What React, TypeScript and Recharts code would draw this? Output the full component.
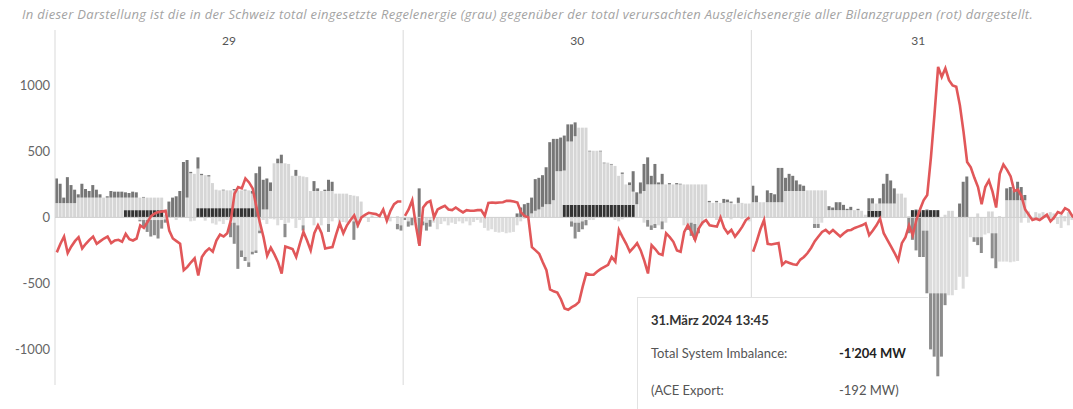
import React from "react";
import { Bar, ComposedChart, Line, ReferenceArea, ReferenceLine, XAxis, YAxis } from "recharts";

const days = ["29", "30", "31"];
const slotsPerDay = [96, 96, 92];
const yTicks = [-1000, -500, 0, 500, 1000];

// 29. März, 15-min slots (MW)
const blk29 = [
  0, 0, 0, 0, 0, 0, 0, 0, 0, 0, 0, 0, 0, 0, 0, 0, 0, 0, 0,
  55, 55, 55, 55, 55, 55, 55, 55, 55, 55, 55,
  0, 0, 0, 0, 0, 0, 0, 0, 0,
  70, 70, 70, 70, 70, 70, 70, 70, 70, 70, 70, 70, 70, 70, 70, 70,
  0, 0, 0, 0, 0, 0, 0, 0, 0, 0, 0, 0, 0, 0, 0, 0, 0, 0, 0, 0, 0, 0, 0, 0, 0, 0, 0, 0, 0, 0, 0, 0, 0, 0, 0, 0, 0, 0, 0, 0, 0,
];
const lt29 = [
  108, 108, 108, 108, 108, 108,
  150, 150, 150, 150, 150, 150, 150, 150, 150, 150, 150, 150, 150,
  95, 95, 95, 95, 95, 95, 95, 95, 95, 95, 95,
  20, 0, 0, 0, 0, 0, 150, 335, 330,
  300, 250, 250, 240, 190, 140,
  135, 135, 135, 135, 135, 135, 135, 135, 135,
  110, 0, 0, 60, 60, 200,
  410, 410, 410, 410, 405,
  315, 315, 315, 310, 305,
  200, 200, 200, 200, 200, 200, 200,
  180, 180, 180, 180, 170, 165, 160, 120,
  10, 0, 15, 0, 10, 0, 20, 5, 0, 10, 0,
];
const dk29 = [
  187, 147, 42, 197, 137, 102,
  25, 105, 65, 50, 95, 60, 25, 0, 10, 50, 45, 45,
  45, 40, 35, 45, 40,
  0, 5, 0, 0, 0, 0, 0,
  0, 120, 150, 160, 200, 420, 285, 10, 0,
  85, 10, 0, 10, 0, 0,
  0, 5, 0, 0, 10, 0, 0, 5, 0,
  20, 335, 385, 225, 235, 65,
  0, 35, 65, 0, 0,
  0, 45, 0, 0, 0,
  0, 75, 20, 0, 10, 85, 70,
  0, 0, 0, 0, 0, 0, 0, 0,
  0, 0, 0, 0, 0, 0, 0, 0, 0, 0, 0,
];
const nlt29 = [
  0, 0, 0, 0, 0, 0, 0, 0, 0, 0, 0, 0, 0, 0, 0, 0, 0, 0, 0, 0, 0, 0, 0,
  -20, -20, -20, -20, -20, -20, -20, -15,
  0, 0, -20, 0, 0, 0,
  -30, -25, 0, 0,
  -25, 0, -45, -55, -30, -50, -20,
  -40, -40, -60, -250, -300, -340, -260, -250, -100,
  -20, -50, -10,
  -15, -60, -20, -50, -40, -10, -80, -20,
  -60, 0, 0, -60, 0,
  -60, 0, -50, -30, 0, -40, -35, -40, 0, -30, -80,
  0, 0, -35, 0, 0, 0, 0, 0, -30, 0, -50, -60,
];
const ndk29 = [
  0, 0, 0, 0, 0, 0, 0, 0, 0, 0, 0, 0, 0, 0, 0, 0, 0, 0, 0, 0, 0, 0, 0,
  -10, -50, -90, -125, -115, -140, -65, -25,
  0, 0, 0, 0, 0, 0,
  0, 0, 0, 0,
  0, 0, 0, 0, 0, 0, 0,
  -110, -160, -330, -50, -30, -35, -20, -20, -20,
  0, 0, 0,
  0, 0, 0, -100, 0, 0, 0, 0,
  -40, 0, 0, 0, 0,
  0, 0, -60, 0, 0, 0, 0, 0, 0, -140, 0,
  0, 0, 0, 0, 0, 0, 0, 0, 0, 0, -40, -40,
];
const imb29 = [
  -265, -200, -145, -270, -220, -180, -150, -235, -200, -170,
  -145, -200, -180, -160, -145, -195, -175, -170, -185, -125,
  -165, -175, -160, -60, -80, -35, 10, 30, 40, 45,
  50, -100, -160, -180, -200, -400, -375, -340, -310, -440,
  -300, -260, -235, -260, -175, -130, -145, -120, -20, 180,
  230, 220, 295, 265, 220, 85, -40, -150, -290, -230,
  -280, -340, -425, -220, -230, -240, -300, -200, -110, -175,
  -250, -120, -60, -120, -235, -230, -225, -130, -45, -120,
  -60, -20, 15, -60, 0, 20, 35, 30, 25, 10,
  60, -25, 50, 100, 120, 120,
];

// 30. März
const blk30 = [
  0, 0, 0, 0, 0, 0, 0, 0, 0, 0, 0, 0, 0, 0, 0, 0, 0, 0, 0, 0, 0, 0, 0, 0, 0, 0, 0, 0, 0, 0, 0, 0, 0, 0, 0, 0, 0, 0, 0, 0, 0, 0, 0, 0,
  95, 95, 95, 95, 95, 95, 95, 95, 95, 95, 95, 95, 95, 95, 95, 95, 95, 95, 95, 95,
  0, 0, 0, 0, 0, 0, 0, 0, 0, 0, 0, 0, 0, 0, 0, 0, 0, 0, 0, 0, 0, 0, 0, 0, 0, 0, 0, 0, 0, 0, 0, 0,
];
const lt30 = [
  0, 0, 0, 0, 0, 0, 0, 0, 0, 0, 0, 0, 0, 0, 0, 0, 0, 0, 0, 0, 0, 0, 0, 0, 0, 0, 0, 0, 0, 0, 0, 0, 0, 0, 0,
  30, 50, 60, 80, 100, 100, 130, 350, 350,
  260, 480, 480, 520, 585, 585, 585,
  405, 410, 410, 405, 315, 320, 305, 295, 220, 235, 155, 150, 100,
  100, 180, 200, 250, 250, 250, 250, 250,
  250, 250, 250, 250, 250, 250, 250, 250, 250, 250, 250, 250,
  115, 110, 115, 110, 110, 115, 110, 100, 110, 110, 105, 105,
];
const dk30 = [
  0, 0, 0, 0, 220,
  0, 0, 0, 0, 0, 0, 0, 0, 0, 0, 0, 0, 0, 0, 0, 0, 0, 0, 0, 0, 0, 0, 0, 0, 0, 0,
  30, 75, 100, 110,
  120, 240, 240, 240, 280, 470, 465, 245, 255,
  265, 130, 130, 105, 0, 0, 0,
  5, 0, 0, 5, 5, 0, 5, 0, 0, 10, 0, 20, 155,
  90, 85, 205, 205, 65, 155, 15, 80,
  0, 10, 0, 10, 5, 0, 0, 0, 0, 0, 0, 0,
  10, 0, 10, 0, 30, 20, 10, 0, 40, 0, 0, 0,
];
const nlt30 = [
  0, -30, 0, -30, 0, -30, -40, -20, -40, -90, -50, -30, -60, -40,
  -50, -30, -45, -30, -60, -35, -20, -40, -80, -100, -90, -110, -115, -110, -120, -115, -110, -60, -30, -10,
  0, 0, 0, 0, 0, 0, 0, 0, 0, 0, 0, 0,
  -30, -40, -40, -30, -20,
  -20, -20,
  0, 0, 0, 0, 0,
  -20, -30, -15,
  0, 0, 0, 0, 0,
  -40, -20, -60, -50, -60, -30, -40,
  0, 0, 0, 0,
  -60, -60, -40, -50, -80, -60,
  0, 0, 0, -20, 0, 0, 0, -15, 0, 0, -10, 0, -30,
];
const ndk30 = [
  -20, -40, -60, 0, -200, -30, -60, -50, 0, 0, 0, 0, 0, 0,
  0, 0, 0, 0, 0, 0, 0, 0, 0, 0, 0, 0, 0, 0, 0, 0, 0, 0, 0, 0,
  0, 0, 0, 0, 0, 0, 0, 0, 0, 0, 0, 0,
  -40, -120, -70, -60, -40,
  0, 0,
  0, 0, 0, 0, 0,
  0, 0, 0,
  0, 0, 0, 0, 0,
  0, -50, -35, -30, 0, -60, 0,
  0, 0, 0, 0,
  0, -35, -100, -120, -40, 0,
  0, 0, 0, 0, 0, 0, 0, 0, 0, 0, 0, 0, 0,
];
const imb30 = [
  12, 60, 130, -60, -215, 75, 110, 125, 0, 60,
  75, 88, 60, 55, 75, 55, 38, 55, 50, 50,
  55, 55, 12, 110, 113, 110, 113, 115, 125, 125,
  120, 113, 38, 10, 0, -225, -250, -275, -340, -400,
  -545, -560, -570, -620, -690, -700, -680, -665, -640, -525,
  -425, -435, -435, -410, -390, -375, -360, -300, -335, -95,
  -150, -200, -260, -230, -195, -250, -330, -425, -210, -240,
  -275, -285, -120, -150, -185, -250, -260, -110, -60, -110,
  -170, -85, -40, -20, -60, -65, -70, 0, -80, -120,
  -95, -145, -110, -70, -20, 0,
];

// 31. März (Sommerzeit, 92 Viertelstunden)
const blk31 = [
  0, 0, 0, 0, 0, 0, 0, 0, 0, 0, 0, 0, 0, 0, 0, 0, 0, 0, 0, 0, 0, 0, 0, 0, 0, 0, 0, 0, 0, 0, 0, 0,
  50, 50, 50, 50,
  0, 0, 0, 0, 0, 0, 0, 0,
  55, 55, 55, 55, 55, 55, 55, 55,
  0, 0, 0, 0, 0, 0, 0, 0, 0, 0, 0, 0, 0, 0, 0, 0, 0, 0, 0, 0, 0, 0, 0, 0, 0, 0, 0, 0, 0, 0, 0, 0, 0, 0, 0, 0, 0, 0, 0, 0,
];
const lt31 = [
  115, 115, 115, 115, 115, 115, 115, 115, 115,
  200, 200, 200, 200, 200, 200,
  205, 205, 205, 205, 205, 205,
  55, 55, 55, 55, 55, 55, 55, 55, 55,
  50, 20,
  0, 55, 55, 55,
  105, 105, 105, 105,
  180, 180, 150, 10,
  0, 0, 0, 0, 0, 0, 0, 0,
  0, 20, 50, 50, 0, 0, 0, 0, 0, 0, 30, 0, 0, 45, 45, 0, 10, 0,
  130, 130, 130, 130, 130, 130,
  45, 0, 40, 30, 40, 20, 40, 30, 0, 20, 10, 40, 20, 10, 0, 0,
];
const dk31 = [
  125, 50, 0, 0, 90, 70, 60, 260, 260,
  100, 130, 115, 80, 50, 40,
  0, 0, 0, 0, 0, 0,
  30, 20, 60, 60, 40, 10, 25, 0, 10,
  0, 0,
  95, 40, 0, 40,
  150, 225, 175, 115,
  0, 0, 0, 0,
  0, 5, 0, 0, 5, 0, 0, 0,
  0, 0, 0, 0, 0, 105, 270, 310, 0, 0, 0, 0, 0, 0, 0, 0, 0, 0,
  90, 100, 75, 140, 100, 40,
  0, 0, 0, 0, 0, 0, 0, 0, 0, 0, 0, 0, 0, 0, 0, 0,
];
const nlt31 = [
  0, 0, 0, 0, 0, 0, 0, 0, 0, 0, 0, 0, 0, 0, 0, 0, 0,
  -50, -50, -40,
  0, 0, 0, 0, 0, 0, 0, 0, 0, 0, 0, 0, 0, 0, 0, 0, 0, 0, 0, 0, 0, 0, 0,
  0, 0, 0, 0, -100, -100,
  -575, -575, -575, -575, -575,
  -590, -590, -550, -450, -540, -450, -150,
  -150, -150, -150, -130, -120, -120, -120,
  -335, -335, -335, -340, -335, -330,
  -40, 0, -40, 0, 0, 0, 0, 0, 0, -20, -50, -80, -30, -60, -20, 0, 0, 0,
];
const ndk31 = [
  0, 0, 0, 0, 0, 0, 0, 0, 0, 0, 0, 0, 0, 0, 0, 0, 0,
  -30, -30, 0,
  0, 0, 0, 0, 0, 0, 0, 0, 0, 0, 0, 0, 0, 0, 0, 0, 0, 0, 0, 0, 0, 0, 0,
  -120, -170, -250, -300, -200, -475,
  -425, -480, -629, -480, -90,
  0, 0, 0, 0, 0, 0, 0,
  -35, -60, -120, 0, 0, -190, -265,
  0, 0, 0, 0, 0, 0,
  0, 0, 0, 0, 0, 0, 0, 0, 0, 0, 0, 0, 0, 0, 0, 0, 0, 0,
];
const imb31 = [
  -260, -180, -90, -20, -200, -205, -200, -195, -360, -335,
  -345, -355, -360, -320, -300, -270, -230, -180, -145, -110,
  -95, -120, -95, -120, -145, -120, -100, -95, -80, -70,
  -60, -45, -135, -100, -60, -10, -120, -170, -220, -270,
  -325, -195, -150, -60, -135, -20, 60, 130, 170, 450,
  780, 1140, 1065, 1130, 1040, 1000, 990, 850, 650, 420,
  380, 300, 230, 100, 230, 280, 195, 75, 330, 400,
  360, 310, 200, 210, 160, 60, 20, -20, -10, -20,
  0, 20, -30, 0, 40, 30, 70, 55, 10, -10,
  10, 0,
];

const dayData = [
  { blk: blk29, lt: lt29, dk: dk29, nlt: nlt29, ndk: ndk29, imb: imb29 },
  { blk: blk30, lt: lt30, dk: dk30, nlt: nlt30, ndk: ndk30, imb: imb30 },
  { blk: blk31, lt: lt31, dk: dk31, nlt: nlt31, ndk: ndk31, imb: imb31 },
];

const dayStart: number[] = [];
const rows: Record<string, number>[] = [];
let offset = 0;
dayData.forEach((d, di) => {
  dayStart.push(offset);
  for (let s = 0; s < slotsPerDay[di]; s++) {
    rows.push({
      x: offset + s + 0.5,
      blk: d.blk[s],
      lt: d.lt[s],
      dk: d.dk[s],
      nlt: d.nlt[s],
      ndk: d.ndk[s],
      ["l" + days[di]]: d.imb[s],
    });
  }
  offset += slotsPerDay[di];
});
const total = offset;

const font = "Lato, 'Noto Sans', sans-serif";

export default function App() {
  return (
    <div
      style={{
        position: "absolute",
        left: 0,
        top: 0,
        width: 1073,
        height: 409,
        overflow: "hidden",
        background: "#fff",
        fontFamily: font,
      }}
    >
      <div
        style={{
          position: "absolute",
          top: 5,
          left: 22,
          whiteSpace: "nowrap",
          fontFamily: "'Open Sans', sans-serif",
          fontSize: 13,
          letterSpacing: 0.3,
          fontStyle: "italic",
          color: "#a3a3a3",
        }}
      >
        In dieser Darstellung ist die in der Schweiz total eingesetzte Regelenergie (grau) gegenüber der total verursachten
        Ausgleichsenergie aller Bilanzgruppen (rot) dargestellt.
      </div>

      <ComposedChart
        width={1090}
        height={409}
        data={rows}
        margin={{ top: 30, right: 5, bottom: 24, left: 0 }}
        stackOffset="sign"
        style={{ fontFamily: font }}
      >
        <XAxis type="number" dataKey="x" domain={[0, total]} hide />
        <YAxis
          type="number"
          domain={[-1270, 1420]}
          ticks={yTicks}
          width={55}
          axisLine={false}
          tickLine={false}
          tickSize={3}
          tickMargin={2}
          tick={{ fill: "#666", fontSize: 13 }}
        />
        {days.map((d, i) => (
          <ReferenceArea
            key={d}
            x1={dayStart[i]}
            x2={dayStart[i] + slotsPerDay[i]}
            fill="none"
            fillOpacity={0}
            stroke="none"
            label={{ value: d, position: "insideTop", fill: "#555", fontSize: 12, offset: 6 }}
          />
        ))}
        {dayStart.map((s) => (
          <ReferenceLine key={"d" + s} x={s} stroke="#d9d9d9" />
        ))}
        <ReferenceLine y={0} stroke="#cfcfcf" />
        <Bar dataKey="blk" stackId="r" fill="#333333" barSize={3} isAnimationActive={false} />
        <Bar dataKey="lt" stackId="r" fill="#d6d6d6" barSize={3} isAnimationActive={false} />
        <Bar dataKey="dk" stackId="r" fill="#777777" barSize={3} isAnimationActive={false} />
        <Bar dataKey="nlt" stackId="r" fill="#dcdcdc" barSize={3} isAnimationActive={false} />
        <Bar dataKey="ndk" stackId="r" fill="#8c8c8c" barSize={3} isAnimationActive={false} />
        {days.map((d) => (
          <Line
            key={"l" + d}
            type="linear"
            dataKey={"l" + d}
            stroke="#e15759"
            strokeWidth={2.6}
            dot={false}
            activeDot={false}
            isAnimationActive={false}
          />
        ))}
      </ComposedChart>

      <div
        style={{
          position: "absolute",
          left: 637,
          top: 297,
          width: 290,
          height: 120,
          background: "#fff",
          borderLeft: "1px solid #e2e2e2",
          borderTop: "1px solid #e2e2e2",
          fontSize: 13,
          color: "#555",
        }}
      >
        <div style={{ position: "absolute", left: 13, top: 14, fontWeight: 700, color: "#333" }}>
          31.März 2024 13:45
        </div>
        <div style={{ position: "absolute", left: 13, top: 47 }}>Total System Imbalance:</div>
        <div style={{ position: "absolute", left: 201, top: 47, fontWeight: 700, color: "#222" }}>-1’204 MW</div>
        <div style={{ position: "absolute", left: 13, top: 84 }}>(ACE Export:</div>
        <div style={{ position: "absolute", left: 201, top: 84 }}>-192 MW)</div>
      </div>
    </div>
  );
}
